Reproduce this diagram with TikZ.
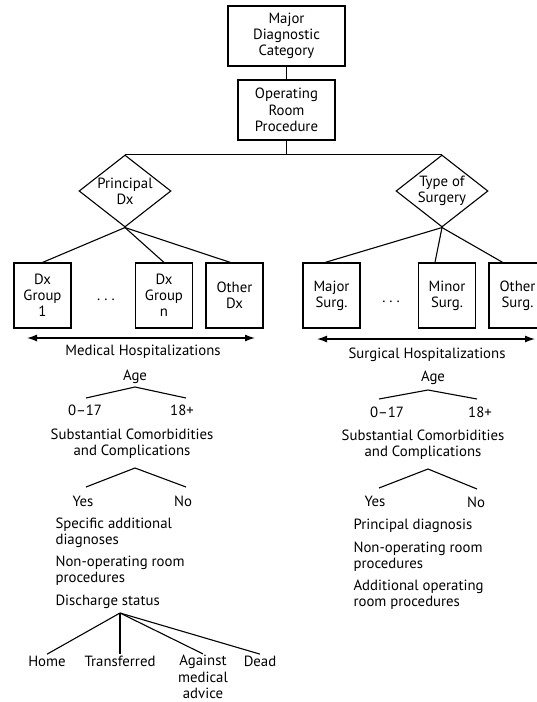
\documentclass[tikz,border=0pt]{standalone}
\usepackage{fontspec}
\setmainfont{PT Sans}
\usetikzlibrary{shapes.geometric,arrows.meta}
\begin{document}
\begin{tikzpicture}[x=1pt,y=-1pt,
  font=\fontsize{14.8}{16.2}\selectfont,
  line width=1.1pt,
  box/.style={draw, align=center, inner sep=0pt},
  topbox/.style={box, minimum height=60pt},
  dxbox/.style={box, minimum width=57pt, minimum height=65pt},
  dmd/.style={draw, diamond, align=center, inner sep=-3pt, shape aspect=1.3,
    minimum width=92pt, minimum height=72pt},
  lbl/.style={align=center, inner sep=1pt},
  lst/.style={align=left, anchor=west, inner sep=0pt},
  link/.style={line width=1.1pt},
  span/.style={{Latex[length=10pt,width=7pt]}-{Latex[length=10pt,width=7pt]}, line width=1.3pt}]
\useasboundingbox (0,0) rectangle (536,702);

% top boxes
\node[topbox, minimum width=117pt] (mdc) at (286.5,36) {Major\\Diagnostic\\Category};
\node[topbox, minimum width=97pt] (orp) at (286.5,110) {Operating\\Room\\Procedure};
\draw[link] (mdc) -- (orp);
\coordinate (hub) at (286.5,155);
\draw[link] (orp) -- (hub);

% diamonds
\node[dmd] (pdx) at (125,191) {Principal\\Dx};
\node[dmd] (tos) at (442,191) {Type of\\Surgery};
\draw[link] (pdx.north) -- (tos.north);

% second-level boxes
\node[dxbox] (g1) at (42.5,295.5) {Dx\\Group\\1};
\node[dxbox] (gn) at (164,295.5) {Dx\\Group\\n};
\node[dxbox] (od) at (234.5,295.5) {Other\\Dx};
\node[dxbox] (ms) at (331.5,295.5) {Major\\Surg.};
\node[dxbox] (mn) at (447,295.5) {Minor\\Surg.};
\node[dxbox] (os) at (517.5,295.5) {Other\\Surg.};
\node[lbl] (dotsL) at (106,300) {.\hspace{4pt}.\hspace{4pt}.};
\node[lbl] (dotsR) at (391,302) {.\hspace{4pt}.\hspace{4pt}.};

\draw[link] (pdx.south) -- (g1.north);
\draw[link] (pdx.south) -- (gn.north);
\draw[link] (pdx.south) -- (od.97);
\draw[link] (tos.south) -- (ms.101);
\draw[link] (tos.south) -- (mn.110);
\draw[link] (tos.south) -- (os.114);

% spans
\coordinate (mL) at (27,338);
\coordinate (mR) at (255,338);
\coordinate (sL) at (317,339);
\coordinate (sR) at (535,339);
\draw[span] (mL) -- (mR);
\draw[span] (sL) -- (sR);
\node[lbl] (medh) at (143,352) {Medical Hospitalizations};
\node[lbl] (surh) at (427,355) {Surgical Hospitalizations};

% age
\node[lbl] (ageL) at (135,377) {Age};
\node[lbl] (ageR) at (433,378) {Age};
\coordinate (ageLa) at (135,387);
\coordinate (ageRa) at (428,390);
\coordinate (ageL1) at (86,398);
\coordinate (ageL2) at (186,398);
\coordinate (ageR1) at (379,399);
\coordinate (ageR2) at (477,399);
\draw[link] (ageL1) -- (ageLa) -- (ageL2);
\draw[link] (ageR1) -- (ageRa) -- (ageR2);
\node[lbl] (yL1) at (85,410) {0–17};
\node[lbl] (yL2) at (182,410) {18+};
\node[lbl] (yR1) at (387,412) {0–17};
\node[lbl] (yR2) at (480,412) {18+};

% comorbidities
\node[lbl] (sccL) at (132,443.5) {Substantial Comorbidities\\and Complications};
\node[lbl] (sccR) at (423,445) {Substantial Comorbidities\\and Complications};
\coordinate (sLa) at (135,468);
\coordinate (sL1) at (86,487);
\coordinate (sL2) at (186,487);
\coordinate (sRa) at (428,469);
\coordinate (sR1) at (379,488);
\coordinate (sR2) at (477,489);
\draw[link] (sL1) -- (sLa) -- (sL2);
\draw[link] (sR1) -- (sRa) -- (sR2);
\node[lbl] (yesL) at (83,501) {Yes};
\node[lbl] (noL) at (183,501) {No};
\node[lbl] (yesR) at (375,501) {Yes};
\node[lbl] (noR) at (476,502) {No};

% lists
\node[lst] (l1) at (55,532.5) {Specific additional\\diagnoses};
\node[lst] (l2) at (55,571) {Non-operating room\\procedures};
\node[lst] (l3) at (55,602) {Discharge status};
\node[lst] (r1) at (353,526) {Principal diagnosis};
\node[lst] (r2) at (353,556.5) {Non-operating room\\procedures};
\node[lst] (r3) at (353,595) {Additional operating\\room procedures};

% discharge
\coordinate (dsa) at (120,613);
\node[lbl] (home) at (47,661) {Home};
\node[lbl] (trans) at (120,661) {Transferred};
\node[lbl] (aga) at (203,677) {Against\\medical\\advice};
\node[lbl] (dead) at (260,661) {Dead};
\draw[link] (dsa) -- (home.north);
\draw[link] (dsa) -- (trans.north);
\draw[link] (dsa) -- (aga.north);
\draw[link] (dsa) -- (dead.north);
\end{tikzpicture}
\end{document}
